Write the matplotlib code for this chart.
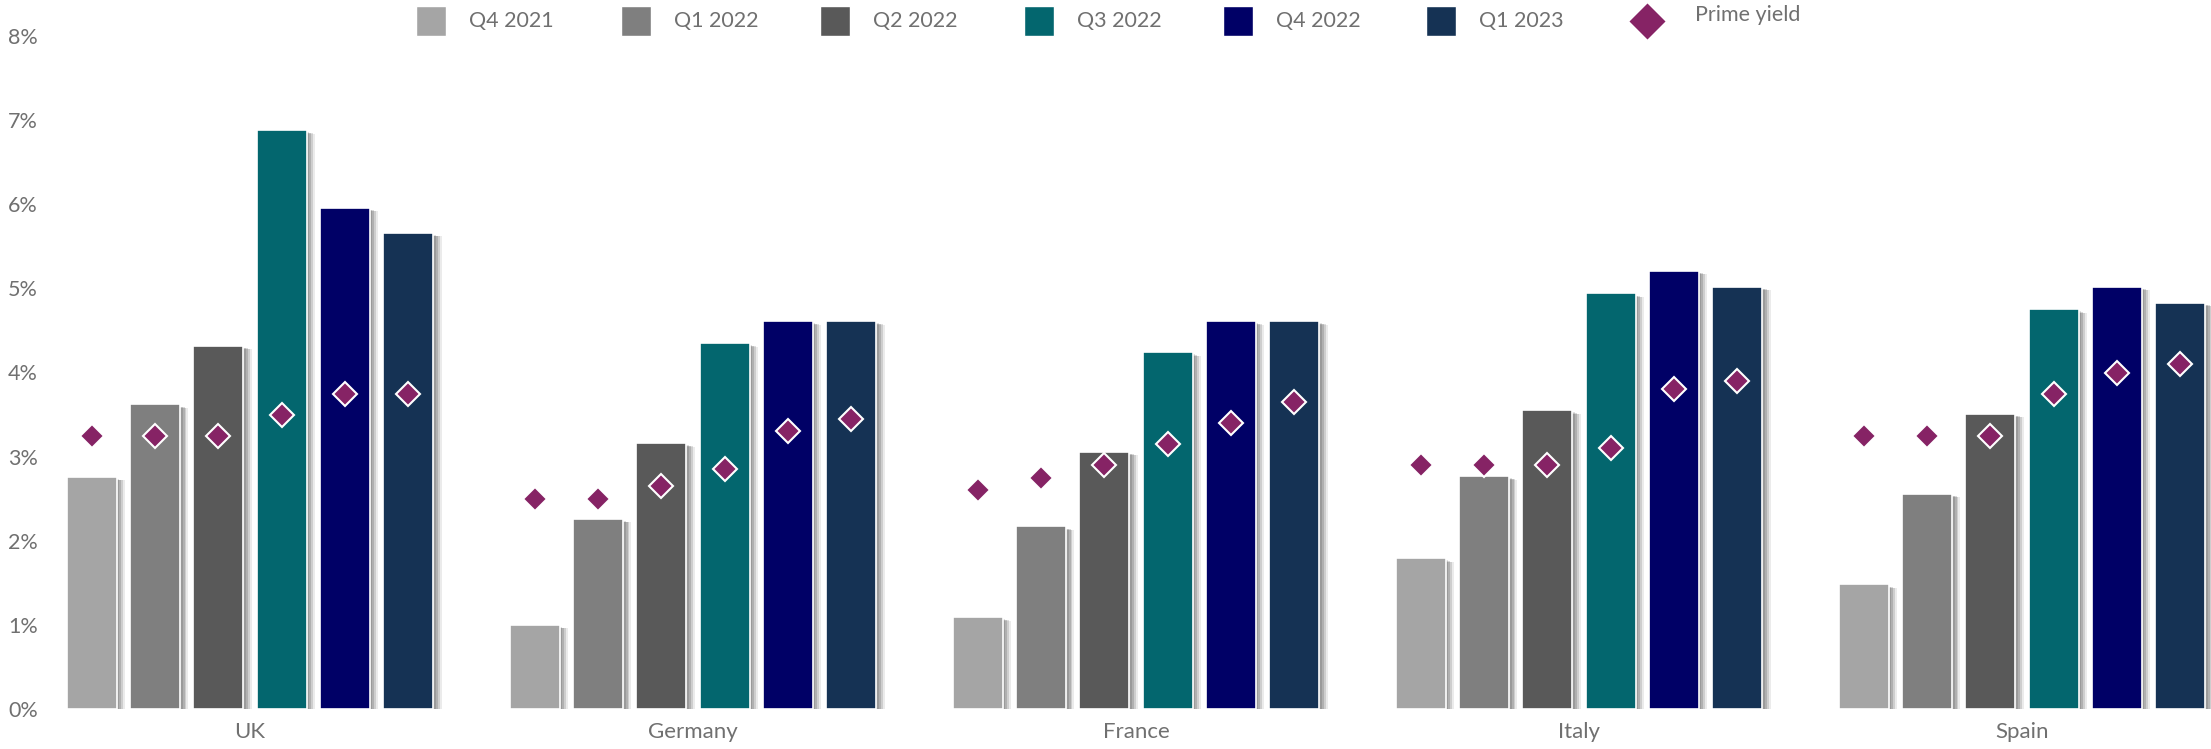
import matplotlib
matplotlib.use("Agg")
import matplotlib.pyplot as plt
import matplotlib.patheffects as pe
from matplotlib.patches import Rectangle
from matplotlib.lines import Line2D
from matplotlib.ticker import PercentFormatter, MultipleLocator
import numpy as np

# ---- data (percent) ----
countries = ["UK", "Germany", "France", "Italy", "Spain"]
quarters = ["Q4 2021", "Q1 2022", "Q2 2022", "Q3 2022", "Q4 2022", "Q1 2023"]

q4_2021 = [2.76, 1.00, 1.09, 1.79, 1.48]
q1_2022 = [3.62, 2.26, 2.17, 2.77, 2.56]
q2_2022 = [4.32, 3.16, 3.06, 3.55, 3.51]
q3_2022 = [6.88, 4.35, 4.24, 4.94, 4.75]
q4_2022 = [5.96, 4.61, 4.61, 5.21, 5.02]
q1_2023 = [5.66, 4.61, 4.61, 5.02, 4.83]

# prime yield, one list per quarter (UK, Germany, France, Italy, Spain)
py_q4_2021 = [3.25, 2.50, 2.60, 2.90, 3.25]
py_q1_2022 = [3.25, 2.50, 2.75, 2.90, 3.25]
py_q2_2022 = [3.25, 2.65, 2.90, 2.90, 3.25]
py_q3_2022 = [3.50, 2.85, 3.15, 3.10, 3.75]
py_q4_2022 = [3.75, 3.30, 3.40, 3.80, 4.00]
py_q1_2023 = [3.75, 3.45, 3.65, 3.90, 4.10]

bar_series = [q4_2021, q1_2022, q2_2022, q3_2022, q4_2022, q1_2023]
yield_series = [py_q4_2021, py_q1_2022, py_q2_2022, py_q3_2022, py_q4_2022, py_q1_2023]
bar_colors = ["#A5A5A5", "#7F7F7F", "#595959", "#03666E", "#000066", "#153254"]
yield_color = "#862365"
yield_label = "Prime yield"

# ---- style ----
plt.rcParams["font.family"] = ["Lato", "DejaVu Sans"]
text_color = "#707070"
fs = 15.5

W, H, DPI = 2211, 749, 100
fig = plt.figure(figsize=(W / DPI, H / DPI), dpi=DPI)
fig.patch.set_facecolor("white")

# plot area in pixels
left_px, right_px, top_px, bottom_px = 40, W, 36, 709
ax = fig.add_axes([left_px / W, (H - bottom_px) / H,
                   (right_px - left_px) / W, (bottom_px - top_px) / H])

x = np.arange(len(countries))
pitch = 0.1429
width = 0.113

# soft drop shadow to the right of each bar
shadow = [
    pe.SimplePatchShadow(offset=(1.8, -1.5), shadow_rgbFace="black", alpha=0.12),
    pe.SimplePatchShadow(offset=(3.2, -2.0), shadow_rgbFace="black", alpha=0.14),
    pe.SimplePatchShadow(offset=(4.6, -2.3), shadow_rgbFace="black", alpha=0.12),
    pe.SimplePatchShadow(offset=(6.0, -2.6), shadow_rgbFace="black", alpha=0.08),
    pe.Normal(),
]

n = len(bar_series)
for i, (vals, yv, col) in enumerate(zip(bar_series, yield_series, bar_colors)):
    xs = x + (i - (n - 1) / 2) * pitch
    bars = ax.bar(xs, vals, width=width, color=col, edgecolor="white",
                  linewidth=1.2, zorder=2)
    for b in bars:
        b.set_path_effects(shadow)
    ax.plot(xs, yv, linestyle="none", marker="D", markersize=12.5,
            markerfacecolor=yield_color, markeredgecolor="white",
            markeredgewidth=1.5, zorder=4)

cat_px = 443.0
uk_px = 250.0
ax.set_xlim((left_px - uk_px) / cat_px, (right_px - uk_px) / cat_px)
ax.set_ylim(0, 8)
ax.yaxis.set_major_locator(MultipleLocator(1))
ax.yaxis.set_major_formatter(PercentFormatter(xmax=100, decimals=0))
ax.set_xticks(x)
ax.set_xticklabels(countries)
ax.tick_params(axis="both", length=0, labelsize=fs, labelcolor=text_color)
ax.tick_params(axis="x", pad=9, labelsize=16)
ax.tick_params(axis="y", pad=1.5)
for s in ax.spines.values():
    s.set_visible(False)
ax.set_facecolor("none")

# ---- legend row across the top ----
legend_y = 21
patch_x = [416, 621, 820, 1024, 1223, 1426]
sq = 30
for px, name, col in zip(patch_x, quarters, bar_colors):
    fig.patches.append(Rectangle(((px) / W, (H - legend_y - sq / 2) / H),
                                 sq / W, sq / H, transform=fig.transFigure,
                                 facecolor=col, edgecolor="white", linewidth=1))
    fig.text((px + sq + 23) / W, (H - legend_y) / H, name, fontsize=fs,
             color=text_color, va="center", ha="left")

diamond_x = 1647
fig.add_artist(Line2D([diamond_x / W], [(H - legend_y) / H], transform=fig.transFigure,
                      marker="D", markersize=19, markerfacecolor=yield_color,
                      markeredgecolor="white", markeredgewidth=1, linestyle="none"))
fig.text(1695 / W, (H - legend_y + 6) / H, yield_label, fontsize=fs,
         color=text_color, va="center", ha="left")

fig.savefig("out.png", dpi=DPI, facecolor="white")
